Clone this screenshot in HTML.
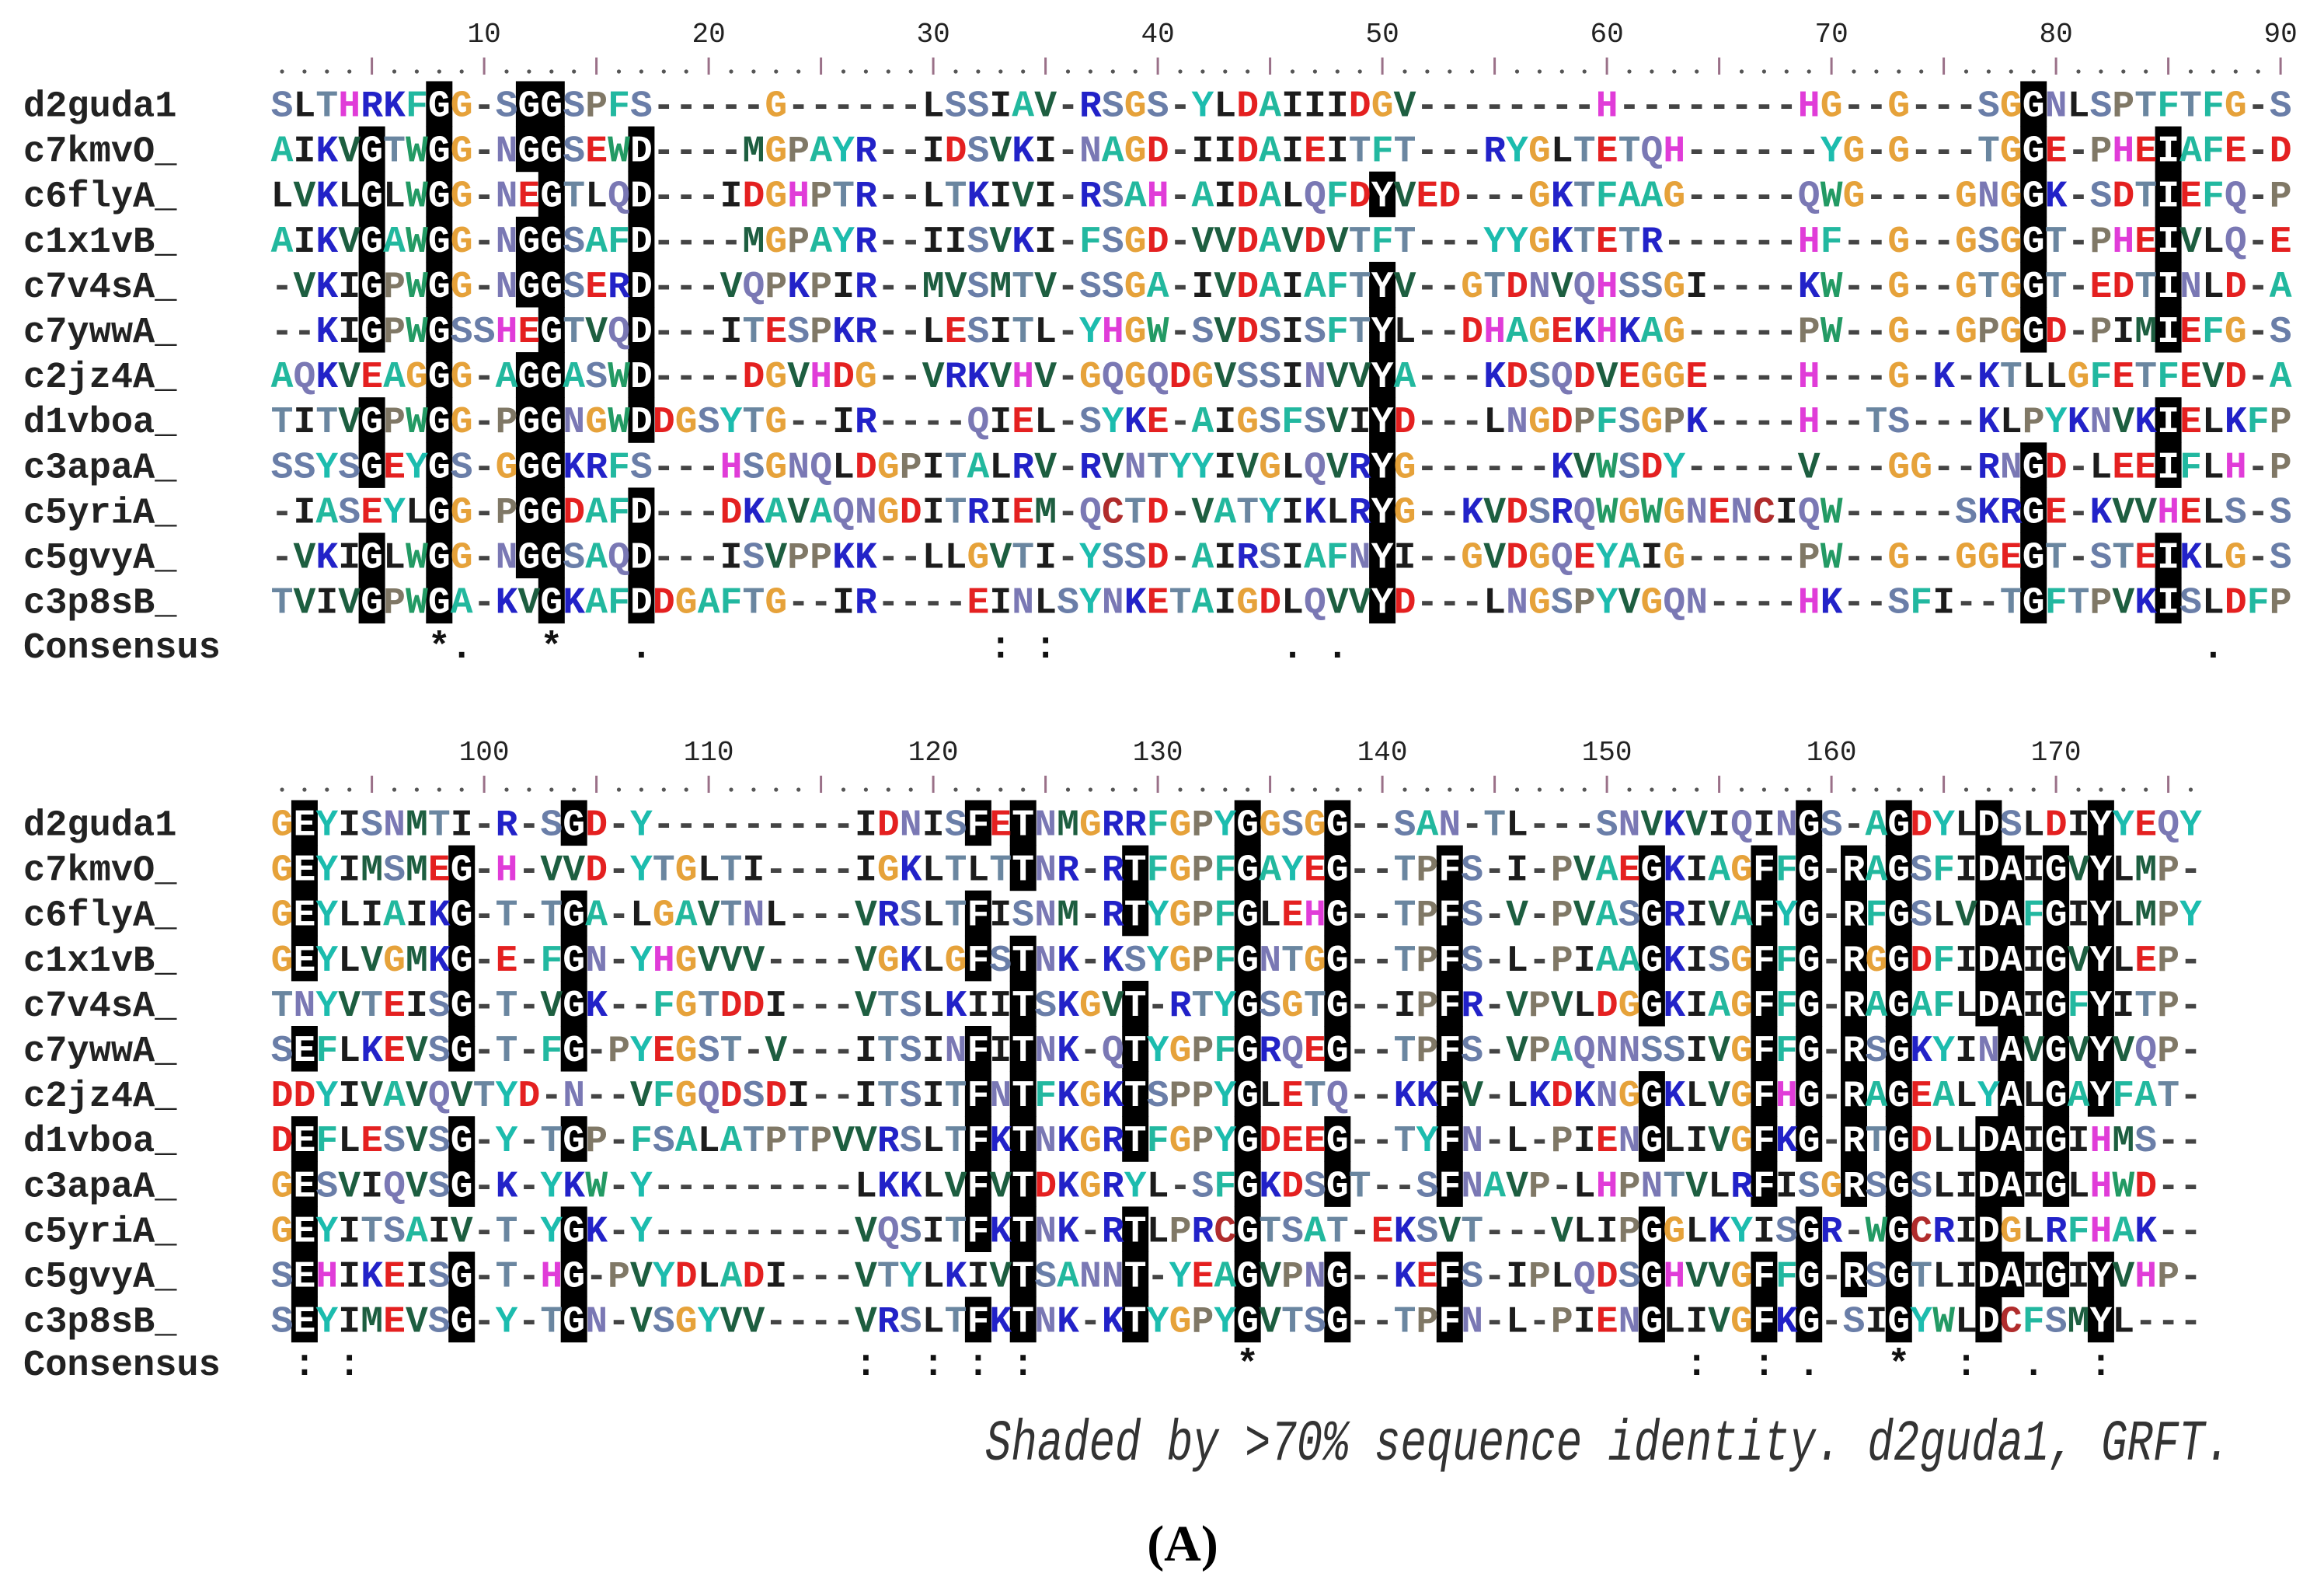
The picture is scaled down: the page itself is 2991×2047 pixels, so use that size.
<!DOCTYPE html>
<html><head><meta charset="utf-8">
<style>
html,body{margin:0;padding:0;background:#fff;}
svg{display:block;}
</style></head>
<body>
<svg id="aln" xmlns="http://www.w3.org/2000/svg" width="2991" height="2047" viewBox="0 0 2991 2047">
<rect x="0" y="0" width="2991" height="2047" fill="#fff"/>
<g id="shade"></g>
<g id="txt"></g>
<text x="0" y="0" transform="translate(1268,1878) scale(1.012,1.35)" font-family="Liberation Mono, monospace" font-style="italic" font-size="55" fill="#333">Shaded by &gt;70% sequence identity. d2guda1, GRFT.</text>
<text x="1522" y="2008" text-anchor="middle" font-family="Liberation Serif, serif" font-weight="bold" font-size="66" fill="#000">(A)</text>
</svg>
<script>
const names = ["d2guda1","c7kmvO_","c6flyA_","c1x1vB_","c7v4sA_","c7ywwA_","c2jz4A_","d1vboa_","c3apaA_","c5yriA_","c5gvyA_","c3p8sB_"];
const block1 = [
"SLTHRKFGG-SGGSPFS-----G------LSSIAV-RSGS-YLDAIIIDGV--------H--------HG--G---SGGNLSPTFTFG-S",
"AIKVGTWGG-NGGSEWD----MGPAYR--IDSVKI-NAGD-IIDAIEITFT---RYGLTETQH------YG-G---TGGE-PHEIAFE-D",
"LVKLGLWGG-NEGTLQD---IDGHPTR--LTKIVI-RSAH-AIDALQFDYVED---GKTFAAG-----QWG----GNGGK-SDTIEFQ-P",
"AIKVGAWGG-NGGSAFD----MGPAYR--IISVKI-FSGD-VVDAVDVTFT---YYGKTETR------HF--G--GSGGT-PHEIVLQ-E",
"-VKIGPWGG-NGGSERD---VQPKPIR--MVSMTV-SSGA-IVDAIAFTYV--GTDNVQHSSGI----KW--G--GTGGT-EDTINLD-A",
"--KIGPWGSSHEGTVQD---ITESPKR--LESITL-YHGW-SVDSISFTYL--DHAGEKHKAG-----PW--G--GPGGD-PIMIEFG-S",
"AQKVEAGGG-AGGASWD----DGVHDG--VRKVHV-GQGQDGVSSINVVYA---KDSQDVEGGE----H---G-K-KTLLGFETFEVD-A",
"TITVGPWGG-PGGNGWDDGSYTG--IR----QIEL-SYKE-AIGSFSVIYD---LNGDPFSGPK----H--TS---KLPYKNVKIELKFP",
"SSYSGEYGS-GGGKRFS---HSGNQLDGPITALRV-RVNTYYIVGLQVRYG------KVWSDY-----V---GG--RNGD-LEEIFLH-P",
"-IASEYLGG-PGGDAFD---DKAVAQNGDITRIEM-QCTD-VATYIKLRYG--KVDSRQWGWGNENCIQW-----SKRGE-KVVHELS-S",
"-VKIGLWGG-NGGSAQD---ISVPPKK--LLGVTI-YSSD-AIRSIAFNYI--GVDGQEYAIG-----PW--G--GGEGT-STEIKLG-S",
"TVIVGPWGA-KVGKAFDDGAFTG--IR----EINLSYNKETAIGDLQVVYD---LNGSPYVGQN----HK--SFI--TGFTPVKISLDFP"
];
const block2 = [
"GEYISNMTI-R-SGD-Y---------IDNISFETNMGRRFGPYGGSGG--SAN-TL---SNVKVIQINGS-AGDYLDSLDIYYEQY",
"GEYIMSMEG-H-VVD-YTGLTI----IGKLTLTTNR-RTFGPFGAYEG--TPFS-I-PVAEGKIAGFFG-RAGSFIDAIGVYLMP-",
"GEYLIAIKG-T-TGA-LGAVTNL---VRSLTFISNM-RTYGPFGLEHG--TPFS-V-PVASGRIVAFYG-RFGSLVDAFGIYLMPY",
"GEYLVGMKG-E-FGN-YHGVVV----VGKLGFSTNK-KSYGPFGNTGG--TPFS-L-PIAAGKISGFFG-RGGDFIDAIGVYLEP-",
"TNYVTEISG-T-VGK--FGTDDI---VTSLKIITSKGVT-RTYGSGTG--IPFR-VPVLDGGKIAGFFG-RAGAFLDAIGFYITP-",
"SEFLKEVSG-T-FG-PYEGST-V---ITSINFITNK-QTYGPFGRQEG--TPFS-VPAQNNSSIVGFFG-RSGKYINAVGVYVQP-",
"DDYIVAVQVTYD-N--VFGQDSDI--ITSITFNTFKGKTSPPYGLETQ--KKFV-LKDKNGGKLVGFHG-RAGEALYALGAYFAT-",
"DEFLESVSG-Y-TGP-FSALATPTPVVRSLTFKTNKGRTFGPYGDEEG--TYFN-L-PIENGLIVGFKG-RTGDLLDAIGIHMS--",
"GESVIQVSG-K-YKW-Y---------LKKLVFVTDKGRYL-SFGKDSGT--SFNAVP-LHPNTVLRFISGRSGSLIDAIGLHWD--",
"GEYITSAIV-T-YGK-Y---------VQSITFKTNK-RTLPRCGTSAT-EKSVT---VLIPGGLKYISGR-WGCRIDGLRFHAK--",
"SEHIKEISG-T-HG-PVYDLADI---VTYLKIVTSANNT-YEAGVPNG--KEFS-IPLQDSGHVVGFFG-RSGTLIDAIGIYVHP-",
"SEYIMEVSG-Y-TGN-VSGYVV----VRSLTFKTNK-KTYGPYGVTSG--TPFN-L-PIENGLIVGFKG-SIGYWLDCFSMYL---"
];
const consensus1Pos = [8,9,13,17,33,35,46,48,87];
const consensus1Chr = ["*",".","*",".",":",":",".",".","."];
const consensus2Pos = [2,4,27,30,32,34,44,64,67,69,73,76,79,82];
const consensus2Chr = [":",":",":",":",":",":","*",":",":",".","*",":",".",":"];
const tickLabels1 = [10,20,30,40,50,60,70,80,90];
const tickLabels2 = [100,110,120,130,140,150,160,170];
const excludeCols1 = [9];
const excludeCols2 = [];

const NS="http://www.w3.org/2000/svg";
const colX0=363, colW=28.9, rowH=58.1;
const xOf = k => colX0 + (k-1)*colW;
const colors = {S:"#6a7ea8",T:"#6a86a0",N:"#7a78b4",Q:"#7a78b4",P:"#807866",G:"#e6a23a",A:"#22b89e",F:"#22b8a0",W:"#239a64",Y:"#1cbcae",C:"#b02c2c",H:"#e03cd8",K:"#2222c8",R:"#2222c8",D:"#e42020",E:"#e42020",I:"#1c1c1c",L:"#1c1c1c",V:"#1d5e40",M:"#1d5e40","-":"#444"};
const shadeG=document.getElementById("shade"), txtG=document.getElementById("txt");
function mk(tag, attrs, parent){const e=document.createElementNS(NS,tag);for(const k in attrs)e.setAttribute(k,attrs[k]);parent.appendChild(e);return e;}

function drawBlock(seqs, rulerY, numY, row1Y, consY, nCols, startNum, tickLabels, cPos, cChr, excl){
  for(let k=1;k<=nCols;k++){
    const num=startNum+k-1, x=xOf(k);
    if(num%5===0){
      const l=mk("line",{x1:x,x2:x,y1:rulerY-14,y2:rulerY+8,stroke:"#9a7088","stroke-width":3},txtG);
      
      
    } else {
      const c=mk("circle",{cx:x,cy:rulerY+4,r:2.6,fill:"#555"},txtG);
      
      
    }
  }
  tickLabels.forEach(n=>{
    const t=mk("text",{x:xOf(n-startNum+1),y:numY,"text-anchor":"middle","font-family":"Liberation Mono, monospace","font-size":36,fill:"#222"},txtG);
    t.textContent=n;
    
    
  });
  const shadeMask = seqs.map(()=>[]);
  for(let k=0;k<nCols;k++){
    if(excl.indexOf(k+1)>=0) continue;
    const cnt={};
    seqs.forEach(s=>{const c=s[k]||"-"; if(c!=="-")cnt[c]=(cnt[c]||0)+1;});
    let best=null,bc=0; for(const c in cnt){if(cnt[c]>bc){bc=cnt[c];best=c;}}
    if(bc/seqs.length>0.7) seqs.forEach((s,r)=>{if(s[k]===best)shadeMask[r][k]=true;});
  }
  seqs.forEach((s,r)=>{
    const cy=row1Y+r*rowH;
    const lab=mk("text",{x:30,y:cy+16,"font-family":"Liberation Mono, monospace","font-weight":"bold","font-size":47,fill:"#222"},txtG);
    lab.textContent=names[r];
    
    
    for(let k=0;k<nCols;k++){
      const ch=s[k]||"-", x=xOf(k+1);
      const sh=shadeMask[r][k];
      if(sh){
        const b=mk("rect",{x:x-17,y:cy-29,width:34,height:rowH+0.5,fill:"#000"},shadeG);
        
        
      }
      const t=mk("text",{x:x,y:cy+16,"text-anchor":"middle","font-family":"Liberation Mono, monospace","font-weight":"bold","font-size":48,fill:sh?"#fff":(colors[ch]||"#333")},txtG);
      t.textContent=ch;
      
      
    }
  });
  const cl=mk("text",{x:30,y:consY+16,"font-family":"Liberation Mono, monospace","font-weight":"bold","font-size":47,fill:"#222"},txtG);
  cl.textContent="Consensus";
  
  
  cPos.forEach((p,i)=>{
    const t=mk("text",{x:xOf(p),y:consY+16,"text-anchor":"middle","font-family":"Liberation Mono, monospace","font-weight":"bold","font-size":48,fill:"#111"},txtG);
    t.textContent=cChr[i];
    
    
  });
}
drawBlock(block1, 88, 54, 133.5, 830, 90, 1, tickLabels1, consensus1Pos, consensus1Chr, excludeCols1);
drawBlock(block2, 1012, 978, 1058.5, 1753, 86, 91, tickLabels2, consensus2Pos, consensus2Chr, excludeCols2);
</script>
</body></html>
